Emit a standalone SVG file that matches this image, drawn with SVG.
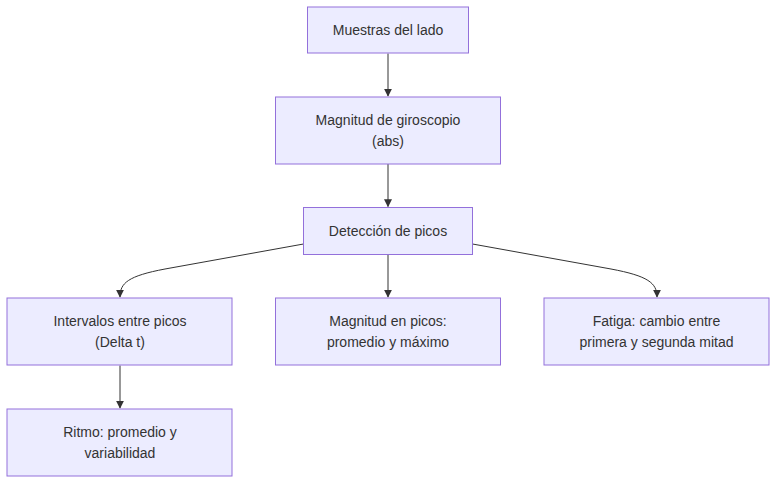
<svg xmlns="http://www.w3.org/2000/svg" width="784" height="489" viewBox="0 0 784 489">
<defs>
<marker id="arrow" viewBox="0 0 10 10" refX="9" refY="5" markerWidth="8" markerHeight="8" markerUnits="userSpaceOnUse" orient="auto">
<path d="M0,0 L10,5 L0,10 z" fill="#333333"/>
</marker>
<style>
.node rect{fill:#ECECFF;stroke:#9370DB;stroke-width:1px;}
.node text{font-family:"Liberation Sans",Arial,sans-serif;font-size:14px;fill:#333333;text-anchor:middle;}
.edge{fill:none;stroke:#333333;stroke-width:1px;marker-end:url(#arrow);}
</style>
</defs>
<rect width="784" height="489" fill="#ffffff"/>
<g id="connectors">
<path class="edge" d="M388,53.5 L388,96"/>
<path class="edge" d="M388,164 L388,206.5"/>
<path class="edge" d="M303.5,244 L165,269 C128,276 120,283 120,297"/>
<path class="edge" d="M388,254.5 L388,297"/>
<path class="edge" d="M472.5,244 L611,269 C648,276 657,283 657,297"/>
<path class="edge" d="M120,365.5 L120,408"/>
</g>
<g id="n1" class="node"><rect x="307.5" y="7" width="161" height="46"/><text x="388" y="35">Muestras del lado</text></g>
<g id="n2" class="node"><rect x="275.5" y="97" width="225" height="67"/><text x="388" y="125">Magnitud de giroscopio</text><text x="388" y="146">(abs)</text></g>
<g id="n3" class="node"><rect x="303.5" y="207.5" width="169" height="47"/><text x="388" y="236">Detección de picos</text></g>
<g id="n4" class="node"><rect x="7" y="298" width="225" height="67"/><text x="120" y="326">Intervalos entre picos</text><text x="120" y="347">(Delta t)</text></g>
<g id="n5" class="node"><rect x="275.5" y="298" width="225" height="67"/><text x="388" y="326">Magnitud en picos:</text><text x="388" y="347">promedio y máximo</text></g>
<g id="n6" class="node"><rect x="544" y="298" width="225" height="67"/><text x="656.5" y="326">Fatiga: cambio entre</text><text x="656.5" y="347">primera y segunda mitad</text></g>
<g id="n7" class="node"><rect x="7" y="409" width="225" height="67"/><text x="120" y="437">Ritmo: promedio y</text><text x="120" y="458">variabilidad</text></g>
</svg>
